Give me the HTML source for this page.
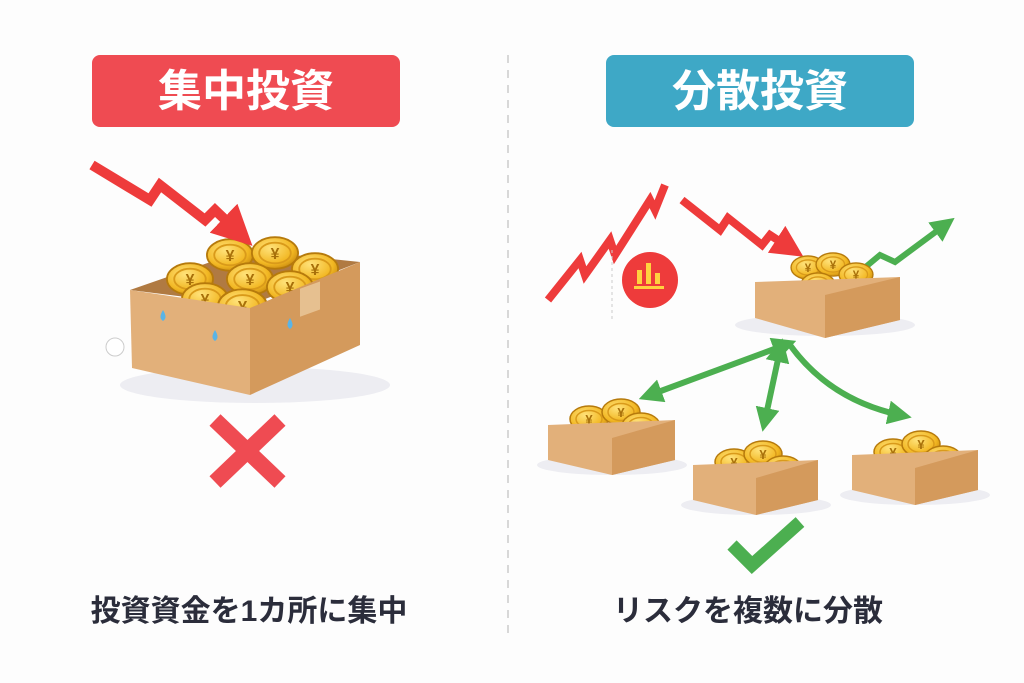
<!DOCTYPE html>
<html><head><meta charset="utf-8"><style>
html,body{margin:0;padding:0;background:#fdfdfd;}
svg{display:block}
</style></head><body>
<svg width="1024" height="683" viewBox="0 0 1024 683" xmlns="http://www.w3.org/2000/svg">
<defs>
<radialGradient id="coin" cx="40%" cy="35%" r="70%"><stop offset="0" stop-color="#ffe27a"/><stop offset="0.7" stop-color="#f2b722"/><stop offset="1" stop-color="#c98a10"/></radialGradient>
<symbol id="c" viewBox="-20 -14 40 28"><ellipse cx="0" cy="0" rx="19" ry="13" fill="url(#coin)" stroke="#b67a0c" stroke-width="1.5"/><ellipse cx="0" cy="0" rx="13" ry="8.5" fill="none" stroke="#d99a1a" stroke-width="1.5"/><text x="0" y="5" font-size="13" font-weight="bold" text-anchor="middle" fill="#a8700a" font-family="Liberation Sans,sans-serif">¥</text></symbol>
<marker id="ag" viewBox="0 0 10 10" refX="5" refY="5" markerWidth="4" markerHeight="4" orient="auto-start-reverse"><path d="M0,0L10,5L0,10z" fill="#4caf50"/></marker>
<marker id="ar" viewBox="0 0 10 10" refX="5" refY="5" markerWidth="4" markerHeight="4" orient="auto"><path d="M0,0L10,5L0,10z" fill="#ee3b3b"/></marker>
</defs>
<line x1="508" y1="55" x2="508" y2="640" stroke="#d8d8d8" stroke-width="2" stroke-dasharray="8,7"/>
<rect x="92" y="55" width="308" height="72" rx="8" fill="#ef4b52"/>
<text x="246" y="106" font-size="44" font-weight="bold" fill="#fff" text-anchor="middle" font-family="Liberation Sans,'Noto Sans CJK JP',sans-serif">集中投資</text>
<rect x="606" y="55" width="308" height="72" rx="8" fill="#3ea8c6"/>
<text x="760" y="106" font-size="44" font-weight="bold" fill="#fff" text-anchor="middle" font-family="Liberation Sans,'Noto Sans CJK JP',sans-serif">分散投資</text>

<ellipse cx="255" cy="385" rx="135" ry="18" fill="#ededf2"/>
<polygon points="130,290 245,250 360,262 250,305" fill="#b07a42"/>
<g>
<use href="#c" x="165" y="262" width="50" height="34"/><use href="#c" x="205" y="238" width="50" height="34"/><use href="#c" x="250" y="236" width="50" height="34"/><use href="#c" x="290" y="252" width="50" height="34"/>
<use href="#c" x="180" y="282" width="50" height="34"/><use href="#c" x="225" y="262" width="50" height="34"/><use href="#c" x="265" y="270" width="50" height="34"/><use href="#c" x="215" y="288" width="55" height="36"/>
</g>
<polygon points="130,290 250,308 250,395 132,368" fill="#e2b07a"/>
<polygon points="250,308 360,262 360,345 250,395" fill="#d49a5c"/>
<rect x="300" y="288" width="20" height="28" fill="#e6c090" transform="skewY(-20) translate(0,110)"/>
<g fill="#5ab4e6"><path d="M163,310q-5,8 0,11q5,-3 0,-11z"/><path d="M215,330q-5,8 0,11q5,-3 0,-11z"/><path d="M290,318q-5,8 0,11q5,-3 0,-11z"/></g>
<circle cx="115" cy="347" r="9" fill="#fff" stroke="#ccc"/>
<path d="M92,165 L150,200 L160,185 L205,220 L215,210 L238,232" fill="none" stroke="#ee3b3b" stroke-width="10" stroke-linejoin="miter" marker-end="url(#ar)"/>
<g stroke="#ef4b52" stroke-width="16" stroke-linecap="butt"><line x1="215" y1="420" x2="280" y2="482"/><line x1="280" y1="420" x2="215" y2="482"/></g>
<text x="249" y="621" font-size="30" font-weight="bold" fill="#2b2d3b" text-anchor="middle" font-family="Liberation Sans,'Noto Sans CJK JP',sans-serif">投資資金を1カ所に集中</text>

<path d="M548,300 L580,260 L585,275 L610,240 L615,255 L650,200 L655,210 L665,185" fill="none" stroke="#ee3b3b" stroke-width="8"/>
<line x1="612" y1="250" x2="612" y2="320" stroke="#ccc" stroke-dasharray="3,3"/>
<circle cx="650" cy="280" r="28" fill="#ee3b3b"/>
<g fill="#ffd23f"><rect x="637" y="270" width="5" height="14"/><rect x="646" y="263" width="5" height="21"/><rect x="655" y="273" width="5" height="11"/><rect x="634" y="286" width="30" height="3"/></g>
<path d="M682,200 L720,230 L728,218 L762,245 L770,235 L790,248" fill="none" stroke="#ee3b3b" stroke-width="8" marker-end="url(#ar)"/>
<path d="M850,280 L880,255 L895,262 L945,225" fill="none" stroke="#4caf50" stroke-width="6" marker-end="url(#ag)"/>

<ellipse cx="825" cy="325" rx="90" ry="11" fill="#ededf2"/>
<use href="#c" x="790" y="255" width="36" height="25"/><use href="#c" x="815" y="252" width="36" height="25"/><use href="#c" x="838" y="262" width="36" height="25"/><use href="#c" x="800" y="272" width="36" height="25"/>
<polygon points="755,282 900,277 900,320 825,338 755,318" fill="#e2b07a"/>
<polygon points="825,295 900,277 900,320 825,338" fill="#d49a5c"/>

<path d="M785,345 L650,395" fill="none" stroke="#4caf50" stroke-width="6" marker-start="url(#ag)" marker-end="url(#ag)"/>
<path d="M780,350 L765,420" fill="none" stroke="#4caf50" stroke-width="6" marker-start="url(#ag)" marker-end="url(#ag)"/>
<path d="M790,345 Q830,400 900,415" fill="none" stroke="#4caf50" stroke-width="6" marker-end="url(#ag)"/>

<g>
<ellipse cx="612" cy="465" rx="75" ry="10" fill="#ededf2"/>
<use href="#c" x="568" y="405" width="42" height="28"/><use href="#c" x="600" y="398" width="42" height="28"/><use href="#c" x="620" y="412" width="42" height="28"/>
<polygon points="548,425 675,420 675,460 612,475 548,460" fill="#e2b07a"/>
<polygon points="612,438 675,420 675,460 612,475" fill="#d49a5c"/>
</g>
<g>
<ellipse cx="756" cy="505" rx="75" ry="10" fill="#ededf2"/>
<use href="#c" x="713" y="448" width="42" height="28"/><use href="#c" x="742" y="440" width="42" height="28"/><use href="#c" x="762" y="455" width="42" height="28"/>
<polygon points="693,465 818,460 818,500 756,515 693,500" fill="#e2b07a"/>
<polygon points="756,478 818,460 818,500 756,515" fill="#d49a5c"/>
</g>
<g>
<ellipse cx="915" cy="495" rx="75" ry="10" fill="#ededf2"/>
<use href="#c" x="872" y="438" width="42" height="28"/><use href="#c" x="900" y="430" width="42" height="28"/><use href="#c" x="922" y="445" width="42" height="28"/>
<polygon points="852,455 978,450 978,490 915,505 852,490" fill="#e2b07a"/>
<polygon points="915,468 978,450 978,490 915,505" fill="#d49a5c"/>
</g>
<path d="M732,545 L752,565 L800,522" fill="none" stroke="#4caf50" stroke-width="13"/>
<text x="748" y="621" font-size="30" font-weight="bold" fill="#2b2d3b" text-anchor="middle" font-family="Liberation Sans,'Noto Sans CJK JP',sans-serif">リスクを複数に分散</text>
</svg>
</body></html>
